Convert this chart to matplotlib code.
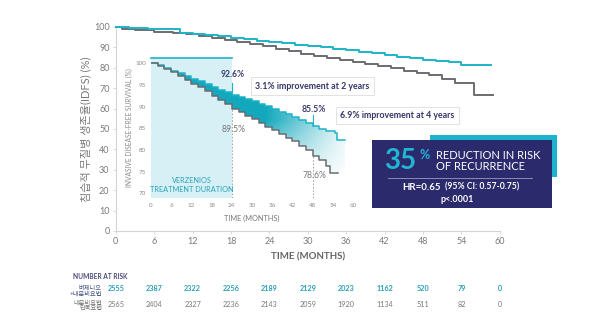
import numpy as np
import matplotlib
matplotlib.use("Agg")
import matplotlib.pyplot as plt
from matplotlib.patches import Rectangle
from matplotlib.colors import to_rgb

plt.rcParams['font.family'] = ['Lato', 'Noto Sans CJK KR', 'DejaVu Sans']

# main chart (0-60 months)
main_ver_t = [0, 2, 5, 10, 12, 14, 16, 18, 20, 22, 24, 26, 28, 30, 32, 34, 36, 38, 40,
              42, 44, 46, 48, 50, 52, 54, 56, 58.6]
main_ver_v = [100, 99.6, 98.9, 97.2, 96.8, 96.0, 95.4, 94.6, 93.9, 93.3, 92.6, 92.0, 91.3,
              90.6, 90.0, 89.2, 88.5, 87.6, 87.0, 86.2, 85.5, 84.8, 84.0, 83.5, 82.9, 81.6,
              81.4, 81.4]
main_et_t = [0, 1, 3, 6, 9, 11, 13, 15, 17, 19, 21, 23, 25, 27, 29, 31, 33, 35, 37, 39,
             41, 43, 45, 47, 49, 51, 53, 56, 59]
main_et_v = [100, 99, 98.6, 97.5, 97, 96.4, 95.6, 94.6, 93.6, 92.5, 91.5, 90.5, 89.2, 88,
             86.6, 85.6, 84.6, 83.6, 82.8, 81.8, 80.8, 79.8, 78.6, 77.6, 76.4, 74.5, 72.6,
             66.7, 66.7]

# inset chart (zoomed 70-100 %)
in_ver_t = [0, 2, 4, 6, 8, 10, 12, 14, 16, 18, 20, 22, 24, 26, 28, 30, 32, 34, 36, 38,
            40, 42, 44, 46, 48, 50, 52, 54.6, 55.2, 57.6]
in_ver_v = [100, 99.6, 99.0, 98.3, 97.7, 97.1, 96.4, 95.8, 95.1, 94.5, 93.9, 93.3, 92.6,
            92.2, 91.7, 91.2, 90.7, 90.1, 89.5, 88.8, 88.2, 87.5, 86.9, 86.2, 85.5, 84.9,
            84.4, 83.8, 82.3, 82.3]
in_et_t = [0, 2, 4, 6, 8, 10, 12, 14, 16, 18, 20, 22, 24, 26, 28, 30, 32, 34, 36, 38,
           40, 42, 44, 46, 48, 50, 52, 53.3, 55.6]
in_et_v = [100, 99.4, 98.7, 97.9, 97.0, 96.2, 95.3, 94.5, 93.5, 92.5, 91.6, 90.6, 89.5,
           88.7, 87.9, 87.1, 86.2, 85.3, 84.5, 83.6, 82.8, 82.0, 81.0, 79.9, 78.6, 77.6,
           76.2, 74.6, 74.6]

risk_months = [0, 6, 12, 18, 24, 30, 36, 42, 48, 54, 60]
risk_ver = [2555, 2387, 2322, 2256, 2189, 2129, 2023, 1162, 520, 79, 0]
risk_et = [2565, 2404, 2327, 2236, 2143, 2059, 1920, 1134, 511, 82, 0]

CYAN = '#1db4c8'
TEAL = '#12a8bd'
GRAY = '#6b6c70'
NAVY = '#2b2a6c'
TXT = '#7a7a7a'

fig = plt.figure(figsize=(6, 3.27), dpi=100)

# ---- main axes
ax = fig.add_axes([0.193, 0.2936, 0.64, 0.6239])
ax.step(main_ver_t, main_ver_v, where='post', color=CYAN, lw=1.4, zorder=3, clip_on=False)
ax.step(main_et_t, main_et_v, where='post', color=GRAY, lw=1.4, zorder=2, clip_on=False)
ax.set_xlim(0, 60)
ax.set_ylim(0, 100)
ax.set_xticks(range(0, 61, 6))
ax.set_yticks(range(0, 101, 10))
for s in ['top', 'right']:
    ax.spines[s].set_visible(False)
for s in ['left', 'bottom']:
    ax.spines[s].set_color('#d4d4d4')
    ax.spines[s].set_linewidth(0.8)
ax.tick_params(colors='#d4d4d4', labelcolor=TXT, labelsize=6.5, length=2.5, width=0.6, pad=2)
ax.set_xlabel('TIME (MONTHS)', fontsize=7, fontweight='bold', color='#666666')
ax.xaxis.set_label_coords(0.50, -0.105)
ax.set_ylabel('침습적 무질병 생존율(IDFS) (%)', fontsize=8, color=TXT, labelpad=2)

# number at risk
ax.text(0.031, -0.225, 'NUMBER AT RISK', transform=ax.transAxes, ha='right', va='center',
        fontsize=4.8, fontweight='bold', color='#4a4c78')
for y, s, c in [(-0.278, '버제니오', '#4a5a8a'), (-0.309, '+내분비요법', '#4a5a8a'),
                (-0.351, '내분비요법', '#777777'), (-0.379, '단독요법', '#777777')]:
    ax.text(-0.036, y, s, transform=ax.transAxes, ha='right', va='center',
            fontsize=4.5, color=c)
tr = ax.get_xaxis_transform()
for m, a, b in zip(risk_months, risk_ver, risk_et):
    ax.text(m, -0.284, str(a), transform=tr, ha='center', va='center', fontsize=5.2,
            fontweight='bold', color='#2b9fb6')
    ax.text(m, -0.358, str(b), transform=tr, ha='center', va='center', fontsize=5.2,
            color='#777777')

# ---- inset axes
ai = fig.add_axes([0.2517, 0.3945, 0.3367, 0.4281])
ai.set_facecolor('none')
ai.add_patch(Rectangle((0, 68.9), 24, 32.3, facecolor='#d7f0f5', edgecolor='none', zorder=0))
ai.plot([0, 24], [101.2, 101.2], color=CYAN, lw=1.2, clip_on=False, zorder=2)
ai.plot([24, 24], [68.9, 89.5], color='#9a9a9a', lw=0.6, ls=(0, (2, 2)), zorder=1)
ai.plot([48, 48], [68.9, 78.6], color='#9a9a9a', lw=0.6, ls=(0, (2, 2)), zorder=1)

# gradient fill between curves
grid_t = np.union1d(in_ver_t, in_et_t)
iv = np.array(in_ver_v)[np.searchsorted(in_ver_t, grid_t, side='right') - 1]
ie = np.array(in_et_v)[np.searchsorted(in_et_t, grid_t, side='right') - 1]
poly = ai.fill_between(grid_t, ie, iv, step='post', facecolor='none', edgecolor='none')
gx, gy = np.meshgrid(np.linspace(0, 60, 300), np.linspace(68, 102, 200))
alpha = np.clip((gy - 71) / 16, 0, 1) * np.clip((60 - gx) / 30, 0, 1)
img = np.zeros((200, 300, 4))
img[..., :3] = to_rgb(TEAL)
img[..., 3] = np.clip(alpha * 1.15, 0, 1)
im = ai.imshow(img, extent=[0, 60, 68, 102], origin='lower', aspect='auto', zorder=2)
im.set_clip_path(poly.get_paths()[0], transform=ai.transData)

ai.step(in_ver_t, in_ver_v, where='post', color=CYAN, lw=1.1, zorder=4)
ai.step(in_et_t, in_et_v, where='post', color=GRAY, lw=1.1, zorder=4)
ai.plot([24, 24], [92.6, 95.4], color=CYAN, lw=0.8, zorder=4)
ai.plot([48, 48], [85.5, 88.0], color=CYAN, lw=0.8, zorder=4)

ai.set_xlim(0, 60)
ai.set_ylim(68.9, 101.2)
ai.set_xticks(range(0, 61, 6))
ai.set_yticks(range(70, 101, 5))
for s in ai.spines.values():
    s.set_visible(False)
ai.tick_params(length=0, labelsize=4.5, labelcolor='#8a8a8a', pad=3.5)
ai.set_xlabel('TIME (MONTHS)', fontsize=5.3, color='#777777', labelpad=5)
ai.set_ylabel('INVASIVE DISEASE-FREE SURVIVAL (%)', fontsize=4.8, color='#8a8a8a', labelpad=2)

ai.text(12, 71.9, 'VERZENIOS\nTREATMENT DURATION', ha='center', va='center', fontsize=5.3,
        color='#2aa3b8', linespacing=1.2, zorder=5)
ai.text(24.4, 97.3, '92.6%', ha='center', va='center', fontsize=6.2, fontweight='bold',
        color='#3a3d72', zorder=5)
ai.text(24.4, 84.8, '89.5%', ha='center', va='center', fontsize=6.2, color='#777777', zorder=5)
ai.text(48.4, 89.3, '85.5%', ha='center', va='center', fontsize=6.2, fontweight='bold',
        color='#3a3d72', zorder=5)
ai.text(48.4, 74.0, '78.6%', ha='center', va='center', fontsize=6.2, color='#777777', zorder=5)

box = dict(boxstyle='square,pad=0.5', facecolor='white', edgecolor='#dddddd', lw=0.6)
fig.text(312 / 600, 1 - 86 / 327, '3.1% improvement at 2 years', ha='center', va='center',
         fontsize=6.3, fontweight='bold', color='#34356a', bbox=box)
fig.text(397 / 600, 1 - 115.5 / 327, '6.9% improvement at 4 years', ha='center', va='center',
         fontsize=6.3, fontweight='bold', color='#34356a', bbox=box)

# ---- HR box
fig.add_artist(Rectangle((430 / 600, 1 - 177 / 327), 127 / 600, 42 / 327,
                         transform=fig.transFigure, facecolor='#1bb3cd', edgecolor='none'))
fig.add_artist(Rectangle((372 / 600, 1 - 208 / 327), 180 / 600, 68 / 327,
                         transform=fig.transFigure, facecolor=NAVY, edgecolor='none'))
fig.text(384 / 600, 1 - 161 / 327, '35', ha='left', va='center', fontsize=20,
         fontweight='bold', color='#22b5d3')
fig.text(419 / 600, 1 - 155 / 327, '%', ha='left', va='center', fontsize=9,
         fontweight='bold', color='#22b5d3')
fig.text(436 / 600, 1 - 161 / 327, 'REDUCTION IN RISK\nOF RECURRENCE', ha='left',
         va='center', fontsize=8, color='white', linespacing=0.95)
fig.add_artist(plt.Line2D([388 / 600, 532 / 600], [1 - 178 / 327, 1 - 178 / 327],
                          transform=fig.transFigure, color='#9a9ac0', lw=0.6))
fig.text(441 / 600, 1 - 187 / 327, 'HR=0.65', ha='right', va='center', fontsize=7,
         fontweight='bold', color='white')
fig.text(445 / 600, 1 - 187 / 327, '(95% CI: 0.57-0.75)', ha='left', va='center',
         fontsize=6.2, fontweight='bold', color='white')
fig.text(457 / 600, 1 - 200 / 327, 'p<.0001', ha='center', va='center', fontsize=6.5,
         fontweight='bold', color='white')

fig.savefig('out.png', dpi=100)
